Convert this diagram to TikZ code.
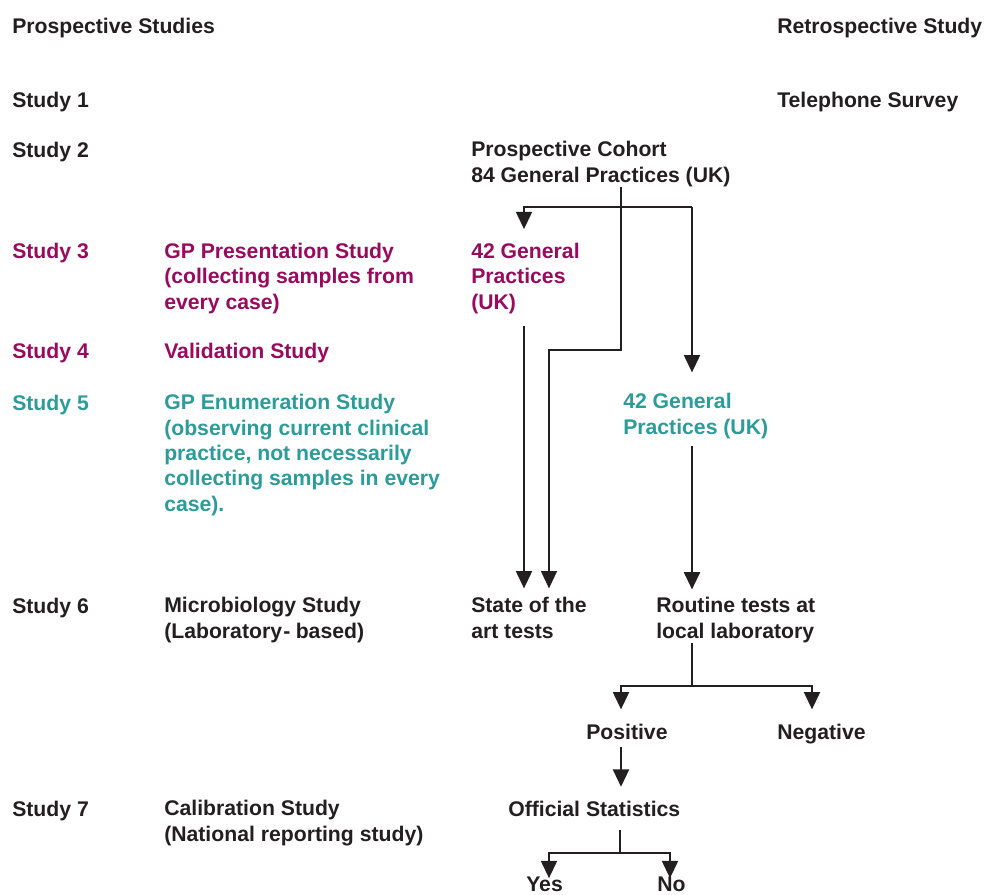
\documentclass[tikz,border=0pt]{standalone}
\usepackage{fontspec}
\setmainfont{Liberation Sans}
\usetikzlibrary{arrows.meta,calc}
\definecolor{txt}{HTML}{231F20}
\definecolor{purp}{HTML}{990A5E}
\definecolor{teal}{HTML}{2A9C99}
\begin{document}
\begin{tikzpicture}[x=0.75pt,y=-0.75pt,
  lbl/.style={anchor=base west,inner sep=0pt,align=left,text=txt,
    font=\fontsize{15.9}{19}\selectfont\bfseries},
  pu/.style={lbl,text=purp},
  te/.style={lbl,text=teal},
  thick line/.style={draw=txt,line width=1.6pt},
  thin line/.style={draw=txt,line width=0.8pt},
  mid line/.style={draw=txt,line width=1.1pt},
  arr/.style={-{Triangle[width=12pt,length=13pt]}}
]
\useasboundingbox (0,0) rectangle (986,894);

% headers and study labels (multi-line nodes are placed by their last baseline)
\node[lbl] (hdrL) at (12,33) {Prospective Studies};
\node[lbl] (hdrR) at (777,33) {Retrospective Study};
\node[lbl] (s1) at (12,107) {Study 1};
\node[lbl] (tel) at (777,107) {Telephone Survey};
\node[lbl] (s2) at (12,157) {Study 2};
\node[lbl] (cohort) at (471,182) {Prospective Cohort\\84 General Practices (UK)};
\node[pu] (s3) at (12,258) {Study 3};
\node[pu] (gpp) at (164,309) {GP Presentation Study\\(collecting samples from\\every case)};
\node[pu] (gpa) at (471,309) {42 General\\Practices\\(UK)};
\node[pu] (s4) at (12,358) {Study 4};
\node[pu] (val) at (164,358) {Validation Study};
\node[te] (s5) at (12,410) {Study 5};
\node[te] (gpe) at (164,511) {GP Enumeration Study\\(observing current clinical\\practice, not necessarily\\collecting samples in every\\case).};
\node[te] (gpb) at (623,434) {42 General\\Practices (UK)};
\node[lbl] (s6) at (12,613) {Study 6};
\node[lbl] (micro) at (164,638) {Microbiology Study\\(Laboratory\kern1pt-\kern4pt based)};
\node[lbl] (sota) at (471,638) {State of the\\art tests};
\node[lbl] (routine) at (656,638) {Routine tests at\\local laboratory};
\node[lbl] (pos) at (586,739) {Positive};
\node[lbl] (neg) at (777,739) {Negative};
\node[lbl] (s7) at (12,816) {Study 7};
\node[lbl] (calib) at (164,841) {Calibration Study\\(National reporting study)};
\node[lbl] (off) at (508,816) {Official Statistics};
\node[lbl] (yes) at (526,891) {Yes};
\node[lbl] (no) at (657,891) {No};

% junction coordinates
\coordinate (cx) at (621,350);
\coordinate (cy) at (549,350);
\coordinate (bl) at (524,207);
\coordinate (br) at (692,207);
\coordinate (rj) at (692,686);
\coordinate (rl) at (621,686);
\coordinate (rr) at (812,686);
\coordinate (oj) at (620,853);
\coordinate (ol) at (549,853);
\coordinate (or) at (670,853);

% cohort line to state of the art tests
\draw[mid line,arr,shorten >=6.5pt] (cohort.south -| cx) -- (cx) -- (cy) -- (cy |- sota.north);
% cohort split
\draw[thick line,arr,shorten >=10.2pt] (br) -- (bl) -- (bl |- gpa.north);
\draw[thick line,arr,shorten >=15.5pt] (br) -- (br |- gpb.north);
% 42 GP purple -> state of the art
\draw[thick line,arr,shorten <=9.4pt,shorten >=6.5pt] (gpa.south -| bl) -- (sota.north -| bl);
% 42 GP teal -> routine
\draw[thick line,arr,shorten <=5.6pt,shorten >=5.7pt] (gpb.south -| br) -- (routine.north -| br);
% routine -> positive / negative
\draw[thin line] (routine.south -| rj) -- (rj);
\draw[thick line,arr,shorten >=10.5pt] (rj) -- (rl) -- (rl |- pos.north);
\draw[thick line,arr,shorten >=10.5pt] (rj) -- (rr) -- (rr |- neg.north);
% positive -> official
\draw[thick line,arr,shorten <=6pt,shorten >=10.2pt] (pos.south -| rl) -- (off.north -| rl);
% official -> yes / no
\draw[thin line,shorten <=10.5pt] (off.south -| oj) -- (oj);
\draw[thick line,arr] (oj) -- (ol) -- ($(ol |- yes.north)+(0,2)$);
\draw[thick line,arr] (oj) -- (or) -- ($(or |- no.north)+(0,2)$);
\end{tikzpicture}
\end{document}
